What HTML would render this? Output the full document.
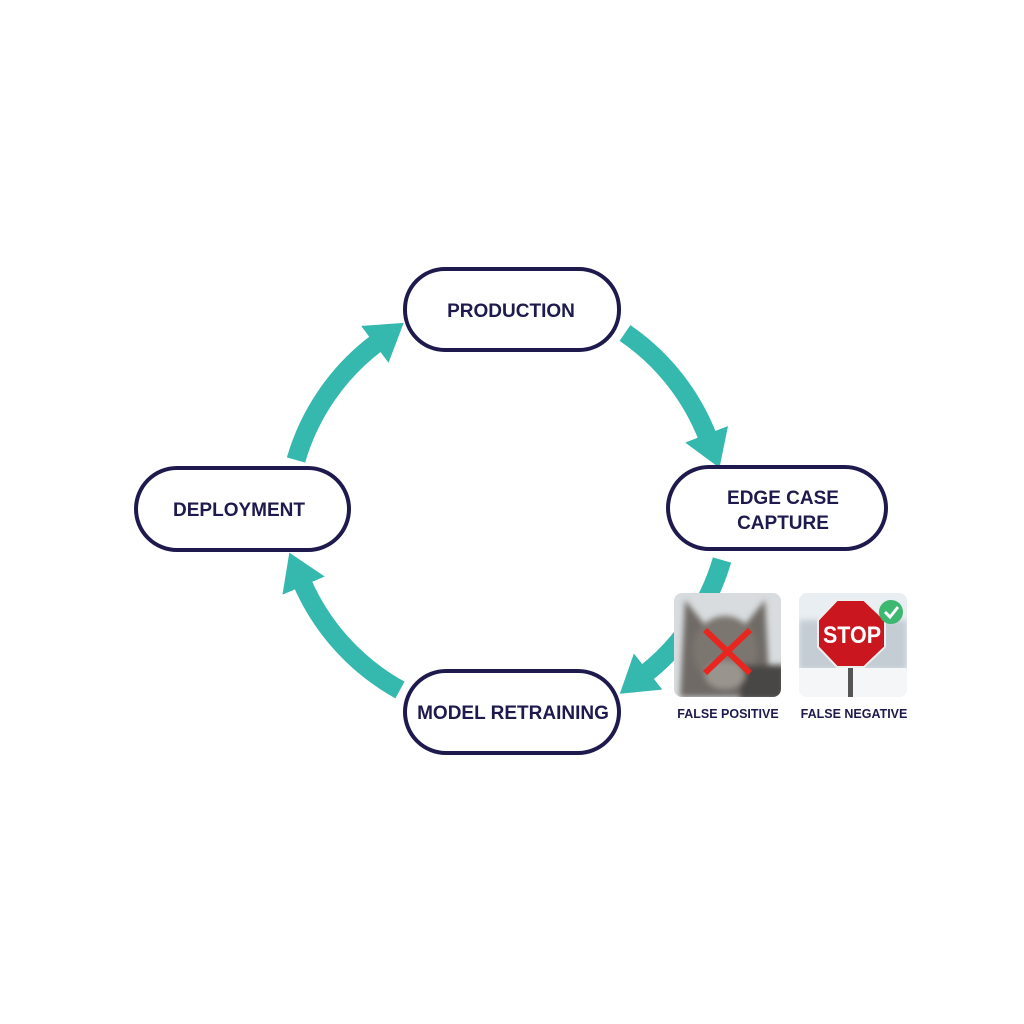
<!DOCTYPE html>
<html><head><meta charset="utf-8"><style>
html,body{margin:0;padding:0;background:#fff;}
svg{display:block}
text{font-family:"Liberation Sans",sans-serif;font-weight:bold;fill:#1e1a4d}
</style></head><body>
<svg width="1024" height="1024" viewBox="0 0 1024 1024" xmlns="http://www.w3.org/2000/svg">
<defs>
<marker id="ah" markerUnits="userSpaceOnUse" markerWidth="40" markerHeight="46" refX="4" refY="23" orient="auto">
<path d="M0,0 L36,23 L0,46 Z" fill="#35b8ad"/>
</marker>
<filter id="bl"><feGaussianBlur stdDeviation="3"/></filter>
<clipPath id="c1"><rect x="674" y="593" width="107" height="104" rx="8"/></clipPath>
<clipPath id="c2"><rect x="799" y="593" width="108" height="104" rx="8"/></clipPath>
</defs>
<g fill="none" stroke="#35b8ad" stroke-width="19">
<path d="M296 460 A225 225 0 0 1 378 342" marker-end="url(#ah)"/>
<path d="M625 333 A225 225 0 0 1 708 438" marker-end="url(#ah)"/>
<path d="M722 560 A225 225 0 0 1 645 674" marker-end="url(#ah)"/>
<path d="M400 690 A225 225 0 0 1 302 582" marker-end="url(#ah)"/>
</g>
<g fill="#fff" stroke="#1e1a4d" stroke-width="4">
<rect x="405" y="269" width="214" height="81" rx="40"/>
<rect x="136" y="468" width="213" height="82" rx="41"/>
<rect x="668" y="467" width="218" height="82" rx="41"/>
<rect x="405" y="671" width="214" height="82" rx="41"/>
</g>
<text x="511" y="317" font-size="19" text-anchor="middle">PRODUCTION</text>
<text x="239" y="516" font-size="19" text-anchor="middle">DEPLOYMENT</text>
<text x="783" y="504" font-size="19" text-anchor="middle">EDGE CASE</text>
<text x="783" y="529" font-size="19" text-anchor="middle">CAPTURE</text>
<text x="513" y="719" font-size="19" text-anchor="middle">MODEL RETRAINING</text>
<!-- cat -->
<g clip-path="url(#c1)">
<rect x="674" y="593" width="107" height="104" fill="#d8dcde"/>
<g filter="url(#bl)">
<path d="M685 600 L705 625 L745 625 L765 600 L770 697 L680 697 Z" fill="#6f6a66"/>
<ellipse cx="725" cy="650" rx="32" ry="34" fill="#7c7670"/>
<rect x="740" y="665" width="45" height="35" fill="#4a4644"/>
<ellipse cx="725" cy="675" rx="20" ry="14" fill="#9a948e"/>
</g>
<path d="M705 630 L750 673 M750 630 L705 673" stroke="#e8261f" stroke-width="6"/>
</g>
<!-- stop -->
<g clip-path="url(#c2)">
<rect x="799" y="593" width="108" height="104" fill="#e9eef2"/>
<rect x="799" y="620" width="108" height="50" fill="#c4ccd4" filter="url(#bl)"/>
<rect x="799" y="668" width="108" height="30" fill="#f4f6f8"/>
<rect x="848" y="660" width="5" height="37" fill="#555"/>
<polygon points="837,600 864,600 885,620 885,647 864,667 837,667 818,647 818,620" fill="#c9161f" stroke="#eee" stroke-width="2"/>
<text x="852" y="643" font-size="24" fill="#fff" style="fill:#fff" text-anchor="middle" textLength="58" lengthAdjust="spacingAndGlyphs">STOP</text>
<circle cx="891" cy="612" r="12" fill="#3cb870"/>
<path d="M885 612 L890 617 L898 607" stroke="#fff" stroke-width="3" fill="none"/>
</g>
<text x="728" y="718" font-size="12.5" text-anchor="middle">FALSE POSITIVE</text>
<text x="854" y="718" font-size="12.5" text-anchor="middle">FALSE NEGATIVE</text>
</svg>
</body></html>
